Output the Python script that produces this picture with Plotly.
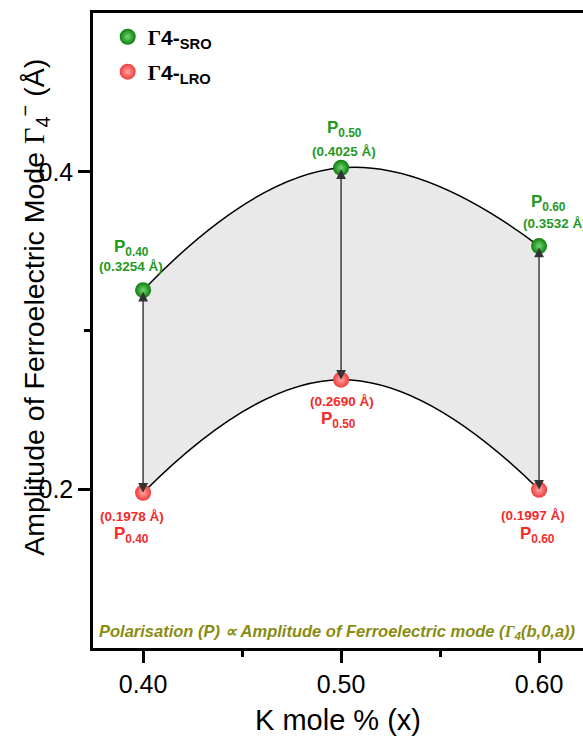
import plotly.graph_objects as go

# K mole fraction and ferroelectric-mode amplitudes (Å)
k_mole = [0.40, 0.50, 0.60]
gamma4_sro = [0.3254, 0.4025, 0.3532]
gamma4_lro = [0.1978, 0.2690, 0.1997]
point_tags = ["0.40", "0.50", "0.60"]

x_ticks = [0.40, 0.50, 0.60]
x_ticktext = ["0.40", "0.50", "0.60"]
x_minor = [0.45, 0.55]
y_ticks = [0.2, 0.4]
y_ticktext = ["0.2", "0.4"]
y_minor = [0.3]

SANS = "Arial, Liberation Sans, sans-serif"
SERIF = "Liberation Serif, Times New Roman, serif"
GREEN_TXT = "#1f9a1f"
RED_TXT = "#f52a2a"
OLIVE = "#8a8c12"

fig = go.Figure()

# band between the two curves
fig.add_trace(go.Scatter(
    x=k_mole, y=gamma4_lro, mode="lines", line=dict(color="black", width=1.5, shape="spline", smoothing=1.3),
    showlegend=False, hoverinfo="skip"))
fig.add_trace(go.Scatter(
    x=k_mole, y=gamma4_sro, mode="lines", line=dict(color="black", width=1.5, shape="spline", smoothing=1.3),
    fill="tonexty", fillcolor="#e9e9e9", showlegend=False, hoverinfo="skip"))

# points
fig.add_trace(go.Scatter(
    x=k_mole, y=gamma4_sro, mode="markers",
    marker=dict(size=16, color="#0c7d0c", line=dict(width=0),
                gradient=dict(type="radial", color="#72d872")),
    name=f"<b><span style='font-family:{SERIF}'>Γ</span>4-<sub>SRO</sub></b>",
    legend="legend"))
fig.add_trace(go.Scatter(
    x=k_mole, y=gamma4_lro, mode="markers",
    marker=dict(size=16, color="#f03a3a", line=dict(width=0),
                gradient=dict(type="radial", color="#ffa8a8")),
    name=f"<b><span style='font-family:{SERIF}'>Γ</span>4-<sub>LRO</sub></b>",
    legend="legend2"))

annotations = []

# double-headed arrows joining SRO and LRO at each composition
for xk, ys, yl in zip(k_mole, gamma4_sro, gamma4_lro):
    annotations.append(dict(
        x=xk, y=yl, ax=xk, ay=ys, xref="x", yref="y", axref="x", ayref="y",
        text="", showarrow=True, arrowhead=2, arrowside="end+start",
        arrowsize=1.4, arrowwidth=1.4, arrowcolor="#333333", standoff=0, startstandoff=0))

# label offsets in px: (P dx, P dy, value dx, value dy)
sro_offsets = [(-12, 42, -12, 24), (3, 39, 3, 16), (9, 43, 16, 23)]
lro_offsets = [(-12, -42, -11, -24), (-3, -40, 1, -22), (-2, -45, -6, -26)]


def label(xk, yk, text, size, color, dx, dy):
    return dict(x=xk, y=yk, xref="x", yref="y", showarrow=False, text=text,
                font=dict(family=SANS, size=size, color=color, weight="bold"),
                xanchor="center", yanchor="middle", xshift=dx, yshift=dy)


for xk, ys, yl, tag, so, lo in zip(k_mole, gamma4_sro, gamma4_lro, point_tags, sro_offsets, lro_offsets):
    annotations.append(label(xk, ys, f"P<sub>{tag}</sub>", 17, GREEN_TXT, so[0], so[1]))
    annotations.append(label(xk, ys, f"({ys:.4f} Å)", 13.5, GREEN_TXT, so[2], so[3]))
    annotations.append(label(xk, yl, f"P<sub>{tag}</sub>", 17, RED_TXT, lo[0], lo[1]))
    annotations.append(label(xk, yl, f"({yl:.4f} Å)", 13.5, RED_TXT, lo[2], lo[3]))

# y-axis title
annotations.append(dict(
    x=-0.122, y=0.536, xref="paper", yref="paper", showarrow=False, textangle=-90,
    text=f"Amplitude of Ferroelectric Mode <span style='font-family:{SERIF}'>Γ</span><sub>4</sub><sup>−</sup> (Å)",
    font=dict(family=SANS, size=28.5, color="black"), xanchor="center", yanchor="middle"))

# footnote
annotations.append(dict(
    x=0.008, y=0.025, xref="paper", yref="paper", showarrow=False,
    text=f"<b><i>Polarisation (P) ∝ Amplitude of Ferroelectric mode (<span style='font-family:{SERIF}'>Γ</span><sub>4</sub>(b,0,a))</i></b>",
    font=dict(family=SANS, size=16.5, color=OLIVE), xanchor="left", yanchor="middle"))

fig.update_layout(
    width=583, height=736,
    margin=dict(l=93, r=0, t=13, b=88),
    paper_bgcolor="white", plot_bgcolor="white",
    font=dict(family=SANS, color="black"),
    annotations=annotations,
    legend=dict(x=0.03, y=0.962, xanchor="left", yanchor="middle", bgcolor="rgba(0,0,0,0)",
                font=dict(family=SANS, size=21, color="black")),
    legend2=dict(x=0.03, y=0.907, xanchor="left", yanchor="middle", bgcolor="rgba(0,0,0,0)",
                 font=dict(family=SANS, size=21, color="black")),
    xaxis=dict(
        range=[0.3747, 0.6222], tickmode="array", tickvals=x_ticks, ticktext=x_ticktext,
        ticks="outside", ticklen=12, tickwidth=2.5, tickcolor="black",
        minor=dict(tickvals=x_minor, ticks="outside", ticklen=6, tickwidth=2.5, tickcolor="black"),
        showline=True, linewidth=2.5, linecolor="black", mirror=True,
        showgrid=False, zeroline=False,
        tickfont=dict(family=SANS, size=25, color="black"),
        title=dict(text="K mole % (x)", font=dict(family=SANS, size=29, color="black"), standoff=14)),
    yaxis=dict(
        range=[0.1, 0.5], tickmode="array", tickvals=y_ticks, ticktext=y_ticktext,
        ticks="outside", ticklen=12, tickwidth=2.5, tickcolor="black",
        minor=dict(tickvals=y_minor, ticks="outside", ticklen=6, tickwidth=2.5, tickcolor="black"),
        showline=True, linewidth=2.5, linecolor="black",
        showgrid=False, zeroline=False,
        tickfont=dict(family=SANS, size=25, color="black")),
)

fig.write_html("out.html")
